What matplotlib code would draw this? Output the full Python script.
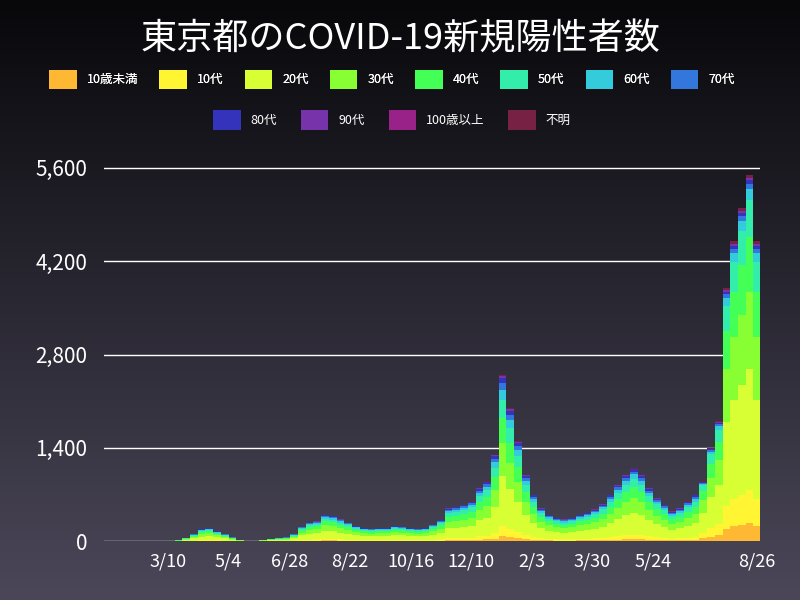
import numpy as np
import pandas as pd
import matplotlib
matplotlib.use("Agg")
import matplotlib.pyplot as plt
from matplotlib.colors import LinearSegmentedColormap

plt.rcParams['font.family'] = ['Noto Sans CJK JP', 'DejaVu Sans']

ages = ["10歳未満", "10代", "20代", "30代", "40代", "50代", "60代", "70代",
        "80代", "90代", "100歳以上", "不明"]
colors = ["#FFB833", "#FFF533", "#D8FF33", "#88FF33", "#44FF55", "#33EEAA",
          "#33CCDD", "#3377DD", "#3333BB", "#7733AA", "#992288", "#772244"]

# weekly peak daily counts from week of 2020-01-20
weekly_totals = [0, 1, 1, 2, 3, 5, 8, 10, 15, 50, 110, 180, 200, 150, 110, 60, 25, 10,
                 10, 25, 35, 45, 60, 110, 220, 280, 300, 400, 380, 330, 280, 230, 200,
                 190, 200, 200, 230, 220, 200, 190, 200, 250, 320, 500, 520, 550, 600,
                 800, 900, 1300, 2500, 2000, 1500, 1000, 700, 500, 400, 350, 330, 350,
                 400, 430, 480, 560, 700, 850, 1000, 1100, 1000, 800, 650, 550, 450, 500,
                 600, 700, 900, 1400, 1800, 3800, 4500, 5000, 5500, 4500]
share_2020 = [3, 6, 30, 20, 15, 11, 6, 4, 3, 1, 0.1, 0.9]
share_2021 = [5, 9, 33, 21, 15, 10, 3, 1.5, 1, 0.5, 0.05, 0.95]
switch_week = 76  # age profile changes from this week

start = pd.Timestamp("2020-01-20")
dates = pd.date_range(start, periods=len(weekly_totals), freq="7D")
tot = np.array(weekly_totals, float)
shares = np.array([share_2020 if i < switch_week else share_2021 for i in range(len(tot))], float)
shares = shares / shares.sum(axis=1, keepdims=True)
vals = tot[:, None] * shares

fig = plt.figure(figsize=(8, 6), dpi=100)
bg = fig.add_axes([0, 0, 1, 1], zorder=-10)
grad = np.linspace(0, 1, 256)[:, None]
cm = LinearSegmentedColormap.from_list("bg", ["#08080b", "#4b4759"])
bg.imshow(grad, aspect="auto", cmap=cm, extent=[0, 1, 0, 1], origin="upper")
bg.axis("off")

ax = fig.add_axes([0.13, 0.098, 0.82, 0.65])
ax.set_facecolor("none")
bottom = np.zeros(len(tot))
handles = []
for k in range(len(ages)):
    h = ax.bar(dates, vals[:, k], width=7, bottom=bottom, color=colors[k], align="edge",
               linewidth=0, label=ages[k])
    handles.append(h)
    bottom += vals[:, k]

ax.set_ylim(0, 5850)
ax.set_yticks([0, 1400, 2800, 4200, 5600])
ax.set_yticklabels(["0", "1,400", "2,800", "4,200", "5,600"])
ax.set_xlim(pd.Timestamp("2020-01-12"), pd.Timestamp("2021-08-29"))
ticks = pd.to_datetime(["2020-03-10", "2020-05-04", "2020-06-28", "2020-08-22", "2020-10-16",
                        "2020-12-10", "2021-02-03", "2021-03-30", "2021-05-24", "2021-08-26"])
ax.set_xticks(ticks)
ax.set_xticklabels([f"{d.month}/{d.day}" for d in ticks])
ax.grid(axis="y", color="white", linewidth=1)
ax.set_axisbelow(True)
for s in ax.spines.values():
    s.set_visible(False)
ax.tick_params(axis="y", colors="white", labelsize=15, length=0, pad=12)
ax.tick_params(axis="x", colors="white", labelsize=13, length=0, pad=8)

fig.text(0.5, 0.935, "東京都のCOVID-19新規陽性者数", color="white", fontsize=26,
         ha="center", va="center")
leg1 = fig.legend(handles[:8], ages[:8], loc="center", bbox_to_anchor=(0.49, 0.868), ncol=8,
                  frameon=False, labelcolor="white", fontsize=9, handlelength=2.2,
                  handleheight=2.0, columnspacing=1.7)
leg2 = fig.legend(handles[8:], ages[8:], loc="center", bbox_to_anchor=(0.49, 0.8), ncol=4,
                  frameon=False, labelcolor="white", fontsize=9, handlelength=2.2,
                  handleheight=2.0, columnspacing=1.9)
fig.add_artist(leg1)
fig.savefig("out.png", dpi=100)
